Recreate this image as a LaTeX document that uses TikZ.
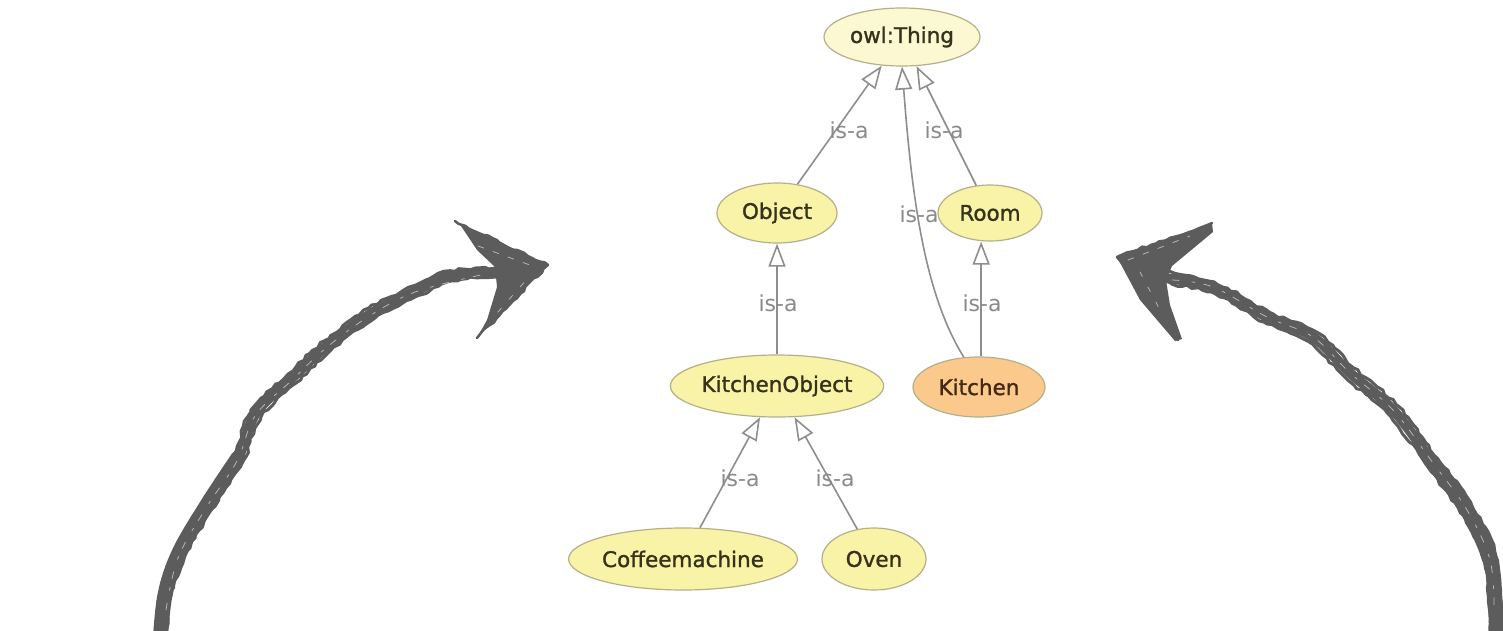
\documentclass[tikz,border=0pt]{standalone}
\usepackage{fontspec}
\setmainfont{DejaVu Sans}
\newfontfamily\classfont[FakeBold=1.2]{DejaVu Sans}
\usetikzlibrary{shapes.geometric,arrows.meta,decorations.pathmorphing}

\definecolor{nodepale}{HTML}{FBF8D2}
\definecolor{nodeyellow}{HTML}{F8F3A6}
\definecolor{nodeorange}{HTML}{FBC98C}
\definecolor{nodeborder}{HTML}{B3B08A}
\definecolor{nodetext}{HTML}{34321A}
\definecolor{kitchentext}{HTML}{452812}
\definecolor{edgegray}{HTML}{8E8E8E}
\definecolor{labelgray}{HTML}{8A8A8A}
\definecolor{sketch}{HTML}{5C5C5C}

\begin{document}
\begin{tikzpicture}[x=1pt,y=-1pt,
  cls/.style={ellipse, draw=nodeborder, line width=1.2pt, inner sep=0pt,
    font=\classfont\fontsize{21.5}{24}\selectfont, text=nodetext},
  isa/.style={draw=edgegray, line width=1.6pt,
    -{Triangle[length=23pt, width=17pt, fill=white]}},
  isalabel/.style={font=\fontsize{22}{24}\selectfont, text=labelgray, inner sep=0pt},
  sketchline/.style={draw=sketch, line cap=round, line join=round},
  rough/.style={decorate, decoration={random steps, segment length=5pt, amplitude=1.4pt}},
  streak/.style={draw=white, line width=0.8pt, opacity=0.55, line cap=round,
    dash pattern=on 7pt off 13pt on 3pt off 9pt}
]
\useasboundingbox (0,0) rectangle (1503,631);
\fill[white] (0,0) rectangle (1503,631);

% ---------- class hierarchy ----------
\node[cls, fill=nodepale,   minimum width=156pt, minimum height=58pt] (thing)   at (902,37)  {owl:Thing};
\node[cls, fill=nodeyellow, minimum width=120pt, minimum height=60pt] (object)  at (777,213) {Object};
\node[cls, fill=nodeyellow, minimum width=104pt, minimum height=56pt] (room)    at (990,213) {Room};
\node[cls, fill=nodeyellow, minimum width=204pt, minimum height=62pt] (kobj)    at (777,386) {KitchenObject};
\node[cls, fill=nodeorange, minimum width=132pt, minimum height=60pt, text=kitchentext] (kitchen) at (979,387) {Kitchen};
\node[cls, fill=nodeyellow, minimum width=220pt, minimum height=62pt] (coffee)  at (683,559) {Coffeemachine};
\node[cls, fill=nodeyellow, minimum width=104pt, minimum height=62pt] (oven)    at (874,559) {Oven};

% subclass edges
\draw[isa] (object) -- (thing);
\draw[isa] (room) -- (thing);
\draw[isa] (kitchen.117) .. controls (925,295) and (912,200) .. (thing.south);
\draw[isa] (kobj) -- (object);
\draw[isa] (kitchen.86) -- (kitchen.86 |- room.south);
\draw[isa] (coffee) -- (kobj);
\draw[isa] (oven) -- (kobj);

% edge labels
\node[isalabel] (lobj)   at (849,130) {is-a};
\node[isalabel] (lroom)  at (944,130) {is-a};
\node[isalabel] (lkit)   at (919,214) {is-a};
\node[isalabel] (lkobj)  at (778,303) {is-a};
\node[isalabel] (lkitr)  at (982,303) {is-a};
\node[isalabel] (lcoff)  at (740,478) {is-a};
\node[isalabel] (loven)  at (835,478) {is-a};

% ---------- hand-drawn arrows ----------
\pgfmathsetseed{11}
% left arrow shaft
\draw[sketchline, line width=15pt] plot[smooth, tension=0.6] coordinates
  {(160,645) (165,595) (179,553) (207,505) (238,458)};
\draw[sketchline, line width=10pt] plot[smooth, tension=0.6] coordinates
  {(165,595) (179,553) (207,505) (238,458) (256,413) (292,378) (327,346) (372,313) (418,290) (450,276) (498,272)};
\draw[sketchline, line width=3pt, rough] plot[smooth, tension=0.6] coordinates
  {(156,640) (161,592) (175,550) (203,502) (234,455) (251,410) (288,374) (324,341) (369,308) (416,285) (450,271) (495,268)};
\draw[sketchline, line width=3pt, rough] plot[smooth, tension=0.6] coordinates
  {(167,640) (171,596) (185,556) (212,509) (243,461) (261,417) (296,383) (331,350) (375,318) (420,295) (452,281) (497,277)};
\draw[streak] plot[smooth, tension=0.6] coordinates
  {(166,610) (178,558) (206,508) (237,461) (255,416) (291,381) (326,348) (371,315) (418,291) (490,273)};
% left arrow head
\fill[sketch] (455,221) -- (548,265) -- (477,338) -- (487,320) -- (497,287) -- (495,267) -- (477,250) -- (461,226) -- cycle;
\draw[sketchline, line width=2.5pt, rough] (455,221) -- (548,265) -- (477,338);
\draw[streak, dash pattern=on 6pt off 10pt] (478,246) -- (538,268);
\draw[streak, dash pattern=on 5pt off 12pt] (498,312) -- (528,278);

% right arrow shaft
\draw[sketchline, line width=10pt] plot[smooth, tension=0.6] coordinates
  {(1163,278) (1213,287) (1267,317) (1313,337) (1350,373) (1393,410) (1433,463) (1467,510) (1490,560)};
\draw[sketchline, line width=15pt] plot[smooth, tension=0.6] coordinates
  {(1433,463) (1467,510) (1490,560) (1495,600) (1497,645)};
\draw[sketchline, line width=3pt, rough] plot[smooth, tension=0.6] coordinates
  {(1165,273) (1214,282) (1269,312) (1316,332) (1354,368) (1398,406) (1438,459) (1472,506) (1496,557) (1502,640)};
\draw[sketchline, line width=3pt, rough] plot[smooth, tension=0.6] coordinates
  {(1163,284) (1211,292) (1264,322) (1309,342) (1346,378) (1388,414) (1428,467) (1462,514) (1485,563) (1491,640)};
\draw[streak] plot[smooth, tension=0.6] coordinates
  {(1172,280) (1213,287) (1267,317) (1313,337) (1350,373) (1393,410) (1433,463) (1467,510) (1490,560) (1494,610)};
% right arrow head
\fill[sketch] (1117,257) -- (1212,223) -- (1213,232) -- (1172,266) -- (1166,280) -- (1170,305) -- (1182,339) -- (1175,341) -- (1140,300) -- cycle;
\draw[sketchline, line width=2.5pt, rough] (1212,223) -- (1117,257) -- (1178,340);
\draw[streak, dash pattern=on 6pt off 10pt] (1128,260) -- (1190,236);
\draw[streak, dash pattern=on 5pt off 12pt] (1140,272) -- (1160,310);

\end{tikzpicture}
\end{document}
